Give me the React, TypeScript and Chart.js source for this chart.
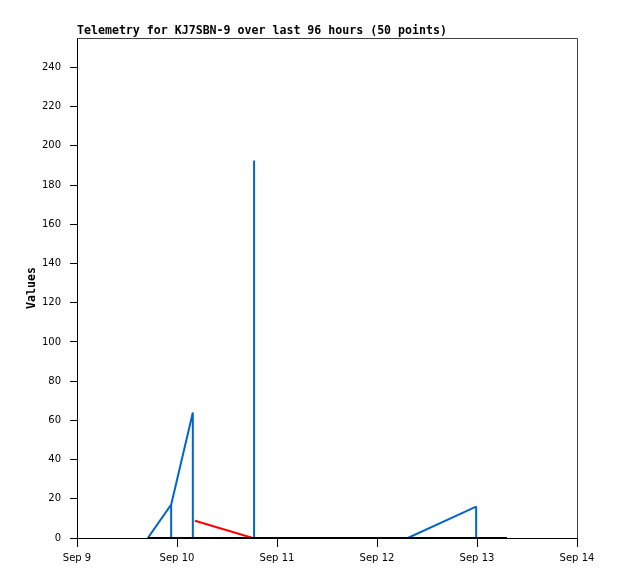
import { useEffect, useRef } from "react";
import { Chart, registerables } from "chart.js";

Chart.register(...registerables);

const TITLE = "Telemetry for KJ7SBN-9 over last 96 hours (50 points)";
const Y_TITLE = "Values";
// x tick labels: one per day, starting Sep 9 00:00
const DAY_LABELS = ["Sep 9", "Sep 10", "Sep 11", "Sep 12", "Sep 13", "Sep 14"];

// times are hours since Sep 9 00:00
const blueHours = [17.0, 22.6, 22.6, 22.6, 27.8, 27.8, 42.5, 42.5, 42.5, 79.4, 95.8, 95.8];
const blueValues = [0, 17, 0, 17, 64, 0, 0, 192.5, 0, 0, 16, 0];
const redHours = [28.3, 42.2];
const redValues = [8.8, 0];
const blackHours = [17.0, 103.2];
const blackValues = [0, 0];

const Y_MAX = 255;
const Y_STEP = 20;

const toPoints = (xs: number[], ys: number[]) => xs.map((x, i) => ({ x, y: ys[i] }));

const framePlugin = {
  id: "frameAndTitle",
  afterDraw(chart: any) {
    const { ctx, chartArea } = chart;
    ctx.save();
    ctx.strokeStyle = "#404040";
    ctx.lineWidth = 1;
    ctx.beginPath();
    ctx.moveTo(Math.round(chartArea.left), Math.round(chartArea.top) + 0.5);
    ctx.lineTo(Math.round(chartArea.right) + 0.5, Math.round(chartArea.top) + 0.5);
    ctx.lineTo(Math.round(chartArea.right) + 0.5, Math.round(chartArea.bottom));
    ctx.stroke();
    ctx.fillStyle = "#000";
    ctx.font = "bold 11.6px 'DejaVu Sans Mono'";
    ctx.textAlign = "left";
    ctx.textBaseline = "alphabetic";
    ctx.fillText(TITLE, chartArea.left, chartArea.top - 4);
    ctx.restore();
  },
};

export default function App() {
  const ref = useRef<HTMLCanvasElement | null>(null);

  useEffect(() => {
    if (!ref.current) return;
    const chart = new Chart(ref.current, {
      type: "line",
      data: {
        datasets: [
          {
            label: "black",
            data: toPoints(blackHours, blackValues),
            borderColor: "#000000",
            borderWidth: 2,
            pointRadius: 0,
            order: 0,
          },
          {
            label: "blue",
            data: toPoints(blueHours, blueValues),
            borderColor: "rgb(0,102,204)",
            borderWidth: 2,
            pointRadius: 0,
            order: 1,
          },
          {
            label: "red",
            data: toPoints(redHours, redValues),
            borderColor: "#ff0000",
            borderWidth: 2,
            pointRadius: 0,
            order: 2,
          },
        ],
      },
      options: {
        animation: false,
        responsive: false,
        devicePixelRatio: 1,
        layout: { padding: { left: 0, right: 41, top: 38, bottom: 0 } },
        plugins: {
          legend: { display: false },
          tooltip: { enabled: false },
          title: { display: false },
        },
        elements: { line: { tension: 0, borderJoinStyle: "bevel" } },
        scales: {
          x: {
            type: "linear",
            min: 0,
            max: (DAY_LABELS.length - 1) * 24,
            afterFit: (scale: any) => {
              scale.height = 41;
            },
            ticks: {
              stepSize: 24,
              includeBounds: false,
              autoSkip: false,
              maxRotation: 0,
              padding: 5,
              color: "#000",
              font: { family: "'DejaVu Sans'", size: 10 },
              callback: (v: any) => DAY_LABELS[Math.round(Number(v) / 24)] ?? "",
            },
            grid: {
              drawOnChartArea: false,
              drawTicks: true,
              tickLength: 9,
              color: "#000",
            },
            border: { color: "#000", width: 1 },
          },
          y: {
            type: "linear",
            min: 0,
            max: Y_MAX,
            afterFit: (scale: any) => {
              scale.width = 77;
            },
            title: {
              display: true,
              text: Y_TITLE,
              color: "#000",
              font: { family: "'DejaVu Sans Mono'", size: 11.6, weight: "bold" },
              padding: { top: 25, bottom: 0 },
            },
            ticks: {
              stepSize: Y_STEP,
              includeBounds: false,
              padding: 9,
              color: "#000",
              font: { family: "'DejaVu Sans'", size: 10 },
            },
            grid: {
              drawOnChartArea: false,
              drawTicks: true,
              tickLength: 7,
              color: "#000",
            },
            border: { color: "#000", width: 1 },
          },
        },
      },
      plugins: [framePlugin],
    });
    return () => chart.destroy();
  }, []);

  return (
    <div style={{ position: "absolute", left: 0, top: 0, width: 618, height: 579 }}>
      <canvas ref={ref} width={618} height={579} />
    </div>
  );
}
